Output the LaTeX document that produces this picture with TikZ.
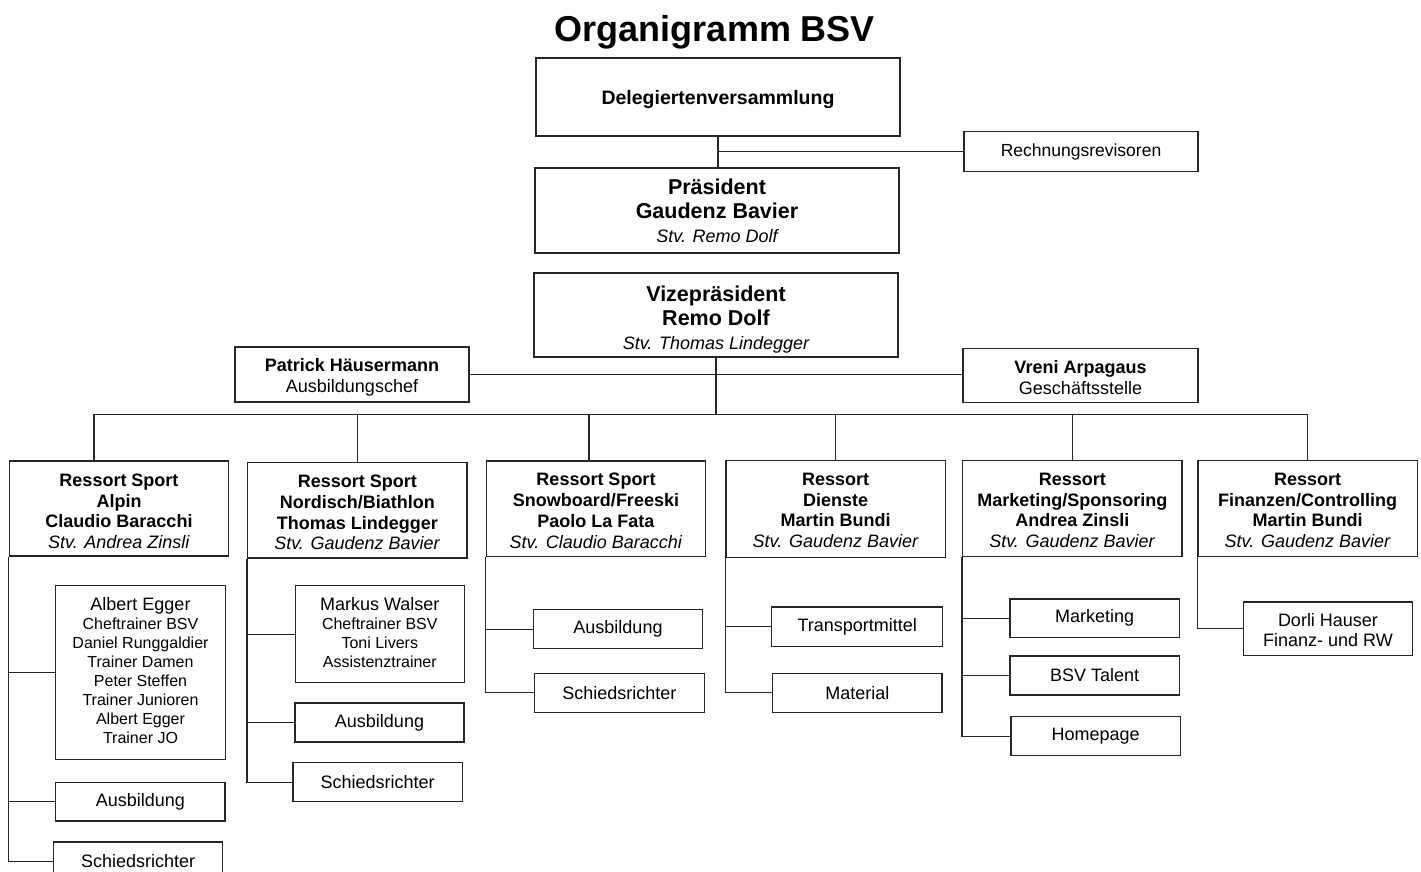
\documentclass[tikz,border=0pt]{standalone}
\usepackage{fontspec}
\setmainfont{Liberation Sans}
\newcommand\topst[1]{\rule{0pt}{#1pt}}
\newcommand\botst[1]{\rule[-#1pt]{0pt}{#1pt}}
\begin{document}
\begin{tikzpicture}[x=1pt,y=-1pt,
  box/.style={draw=black!85, line width=1.2pt, rectangle, inner sep=0pt, align=center, text=black},
  sz/.style 2 args={minimum width=#1pt, minimum height=#2pt},
  conn/.style={draw=black!85, line width=1.2pt},
  big/.style={font=\fontsize{21.5}{24}\selectfont},
  res/.style={font=\fontsize{18}{20.8}\selectfont},
  sub/.style={font=\fontsize{18}{20}\selectfont},
  multi/.style={font=\fontsize{16}{19}\selectfont},
]
\useasboundingbox (0,0) rectangle (1421,872);
\clip (0,0) rectangle (1421,872);
\fill[white] (0,0) rectangle (1421,872);

% title
\node[anchor=base, font=\fontsize{36}{40}\selectfont\bfseries] (title) at (715,42) {Organigramm BSV};

% top levels
\node[box, sz={364}{78}, font=\fontsize{19.5}{22}\selectfont\bfseries] (deleg) at (718,97) {\topst{20}Delegiertenversammlung};
\node[box, sz={234}{40}, font=\fontsize{17.5}{20}\selectfont] (rev) at (1081,151.5) {Rechnungsrevisoren};
\node[box, sz={364}{85}, big] (praes) at (717,210.5) {\textbf{Präsident}\\\textbf{Gaudenz Bavier}\\{\fontsize{18}{24}\selectfont\itshape Stv. Remo Dolf}};
\node[box, sz={364}{84}, big] (vize) at (716,315) {\topst{25}\textbf{Vizepräsident}\\\textbf{Remo Dolf}\\{\fontsize{18}{24}\selectfont\itshape Stv. Thomas Lindegger}};
\node[box, sz={234}{55}, res] (patrick) at (352,374.5) {\topst{19}\textbf{Patrick Häusermann}\\Ausbildungschef};
\node[box, sz={235}{54}, res] (vreni) at (1080.5,375.5) {\topst{17}\textbf{Vreni Arpagaus}\\Geschäftsstelle};

% ressorts
\node[box, sz={219.4}{95}, res] (alpin) at (119,508.5) {\topst{18}\textbf{Ressort Sport}\\\textbf{Alpin}\\\textbf{Claudio Baracchi}\\\textit{Stv. Andrea Zinsli}};
\node[box, sz={219.3}{95.3}, res] (nord) at (357.3,510.3) {\topst{17}\textbf{Ressort Sport}\\\textbf{Nordisch/Biathlon}\\\textbf{Thomas Lindegger}\\\textit{Stv. Gaudenz Bavier}};
\node[box, sz={219.4}{95.3}, res] (snow) at (596,508.7) {\topst{17}\textbf{Ressort Sport}\\\textbf{Snowboard/Freeski}\\\textbf{Paolo La Fata}\\\textit{Stv. Claudio Baracchi}};
\node[box, sz={219.3}{96.6}, res] (dien) at (835.7,509) {\topst{15}\textbf{Ressort}\\\textbf{Dienste}\\\textbf{Martin Bundi}\\\textit{Stv. Gaudenz Bavier}};
\node[box, sz={219.3}{96.4}, res] (mark) at (1072.3,508.5) {\topst{16}\textbf{Ressort}\\\textbf{Marketing/Sponsoring}\\\textbf{Andrea Zinsli}\\\textit{Stv. Gaudenz Bavier}};
\node[box, sz={219.3}{96.4}, res] (fin) at (1307.7,508.5) {\topst{16}\textbf{Ressort}\\\textbf{Finanzen/Controlling}\\\textbf{Martin Bundi}\\\textit{Stv. Gaudenz Bavier}};

% Alpin children
\node[box, sz={169.6}{174.4}, multi] (a1) at (140.5,672.5) {{\fontsize{18}{19}\selectfont Albert Egger}\\Cheftrainer BSV\\Daniel Runggaldier\\Trainer Damen\\Peter Steffen\\Trainer Junioren\\Albert Egger\\Trainer JO\botst{4}};
\node[box, sz={169.3}{38.7}, sub] (a2) at (140.3,801.7) {Ausbildung};
\node[box, sz={169}{39}, sub] (a3) at (138.2,861.5) {Schiedsrichter};

% Nordisch children
\node[box, sz={169}{97}, multi] (n1) at (379.8,634.2) {{\fontsize{18}{19}\selectfont Markus Walser}\\Cheftrainer BSV\\Toni Livers\\Assistenztrainer\botst{3}};
\node[box, sz={169}{39}, sub] (n2) at (379.5,722.5) {Ausbildung};
\node[box, sz={169.3}{39}, sub] (n3) at (377.7,782.2) {Schiedsrichter};

% Snowboard children
\node[box, sz={169.4}{39}, sub] (s1) at (618,629.2) {Ausbildung};
\node[box, sz={170}{39}, sub] (s2) at (619.3,692.8) {Schiedsrichter};

% Dienste children
\node[box, sz={171}{39.3}, sub] (d1) at (857.2,626.7) {Transportmittel};
\node[box, sz={169.3}{39}, sub] (d2) at (857.3,692.8) {Material};

% Marketing children
\node[box, sz={169.3}{38.7}, sub] (m1) at (1094.7,618.3) {Marketing};
\node[box, sz={169.3}{39}, sub] (m2) at (1094.7,675.5) {BSV Talent};
\node[box, sz={169.3}{39}, sub] (m3) at (1095.7,736.2) {Homepage};

% Finanzen child
\node[box, sz={169.4}{53.7}, font=\fontsize{18}{19.5}\selectfont] (f1) at (1328,628.8) {\topst{16}Dorli Hauser\\Finanz- und RW};

% connectors top
\draw[conn] (deleg.south) -- (deleg.south |- praes.north);
\draw[conn] (rev.west) -- (rev.west -| deleg.south);
\draw[conn] (patrick.east) -- (patrick.east -| vreni.west);

\coordinate (bus) at (717,414.3);
\coordinate (dA) at (94,414.3);
\coordinate (dS) at (589,414.3);
\draw[conn] (vize.south) -- (vize.south |- bus);
\draw[conn] (dA) -- (fin.north |- bus);
\draw[conn] (dA) -- (dA |- alpin.north);
\draw[conn] (nord.north |- bus) -- (nord.north);
\draw[conn] (dS) -- (dS |- snow.north);
\draw[conn] (dien.north |- bus) -- (dien.north);
\draw[conn] (mark.north |- bus) -- (mark.north);
\draw[conn] (fin.north |- bus) -- (fin.north);

% subtrees
\draw[conn] (alpin.south west) |- (a3.west);
\draw[conn] (a1.west) -- (a1.west -| alpin.south west);
\draw[conn] (a2.west) -- (a2.west -| alpin.south west);

\draw[conn] (nord.south west) |- (n3.west);
\draw[conn] (n1.west) -- (n1.west -| nord.south west);
\draw[conn] (n2.west) -- (n2.west -| nord.south west);

\draw[conn] (snow.south west) |- (s2.west);
\draw[conn] (s1.west) -- (s1.west -| snow.south west);

\draw[conn] (dien.south west) |- (d2.west);
\draw[conn] (d1.west) -- (d1.west -| dien.south west);

\draw[conn] (mark.south west) |- (m3.west);
\draw[conn] (m1.west) -- (m1.west -| mark.south west);
\draw[conn] (m2.west) -- (m2.west -| mark.south west);

\draw[conn] (fin.south west) |- (f1.west);
\end{tikzpicture}
\end{document}
